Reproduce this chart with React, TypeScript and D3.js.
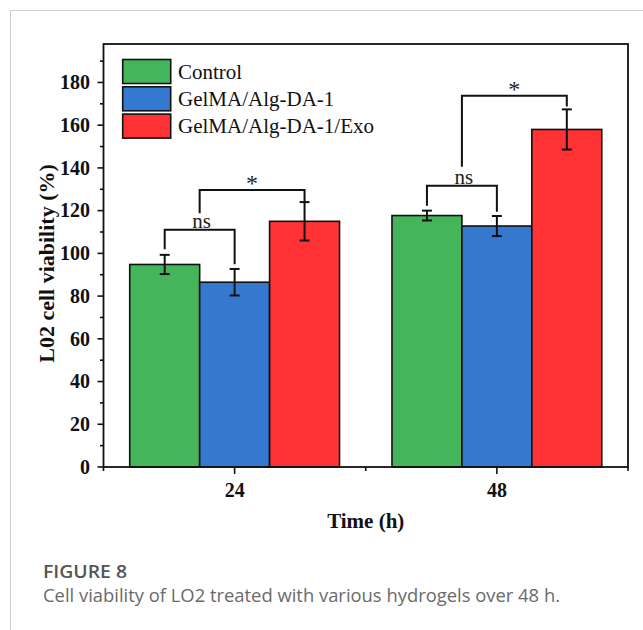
import React from "react";
import * as d3 from "d3";

// ---- data ----
const groups = [24, 48];
const seriesNames = ["Control", "GelMA/Alg-DA-1", "GelMA/Alg-DA-1/Exo"];
const seriesColors = ["#45b55b", "#3478d0", "#ff3236"];
const controlMean = [94.8, 117.7];
const controlErr = [4.5, 2.3];
const gelmaMean = [86.5, 112.8];
const gelmaErr = [6.2, 4.7];
const exoMean = [115.0, 158.0];
const exoErr = [9.0, 9.4];
const yMajorTicks = [0, 20, 40, 60, 80, 100, 120, 140, 160, 180];
const yMinorTicks = [10, 30, 50, 70, 90, 110, 130, 150, 170, 190];
const xMajorTicks = [24, 48];
const xMinorTicks = [12, 36, 60];
// significance brackets: group, from/to bar index (0.5 = midpoint of 0 and 1), top, left end, right end
const bracketGroup = [24, 24, 48, 48];
const bracketFrom = [0, 0.5, 0, 0.5];
const bracketTo = [1, 2, 1, 2];
const bracketTop = [111, 129.7, 131.6, 173.8];
const bracketLeftEnd = [101.9, 118.8, 122.3, 140.6];
const bracketRightEnd = [94.9, 124.2, 119.5, 168.7];
const bracketLabel = ["ns", "*", "ns", "*"];

const means = [controlMean, gelmaMean, exoMean];
const errs = [controlErr, gelmaErr, exoErr];

const W = 643;
const H = 630;
const left = 103.5, right = 628, top = 44, bottom = 467;
const barW = 6.4; // in x units

export default function App() {
  const x = d3.scaleLinear().domain([12, 60]).range([left, right]);
  const y = d3.scaleLinear().domain([0, 198]).range([bottom, top]);
  const serif = "'Liberation Serif', 'Times New Roman', serif";
  const barX = (g: number, i: number) => x(g + (i - 1) * barW);

  return (
    <svg width={W} height={H} style={{ position: "absolute", left: 0, top: 0, background: "#fff" }}>
      {/* page frame */}
      <line x1={10.5} y1={10.5} x2={W} y2={10.5} stroke="#cfcfcf" strokeWidth={1} />
      <line x1={10.5} y1={10.5} x2={10.5} y2={H} stroke="#cfcfcf" strokeWidth={1} />

      {/* bars */}
      {seriesNames.map((s, i) =>
        groups.map((g, j) => {
          const x0 = x(g + (i - 1) * barW - barW / 2);
          const x1 = x(g + (i - 1) * barW + barW / 2);
          return (
            <rect key={s + g} x={x0} y={y(means[i][j])} width={x1 - x0} height={y(0) - y(means[i][j])}
              fill={seriesColors[i]} stroke="#111" strokeWidth={1.6} />
          );
        })
      )}
      {/* error bars */}
      {seriesNames.map((s, i) =>
        groups.map((g, j) => {
          const cx = barX(g, i);
          const hi = y(means[i][j] + errs[i][j]);
          const lo = y(means[i][j] - errs[i][j]);
          return (
            <g key={"e" + s + g} stroke="#111" strokeWidth={2}>
              <line x1={cx} x2={cx} y1={hi} y2={lo} />
              <line x1={cx - 5} x2={cx + 5} y1={hi} y2={hi} />
              <line x1={cx - 5} x2={cx + 5} y1={lo} y2={lo} />
            </g>
          );
        })
      )}
      {/* brackets */}
      {bracketLabel.map((lab, k) => {
        const xa = barX(bracketGroup[k], bracketFrom[k]);
        const xb = barX(bracketGroup[k], bracketTo[k]);
        const yt = y(bracketTop[k]);
        const star = lab === "*";
        return (
          <g key={"b" + k}>
            <path d={`M${xa},${y(bracketLeftEnd[k])}V${yt}H${xb}V${y(bracketRightEnd[k])}`}
              fill="none" stroke="#111" strokeWidth={2} />
            <text x={(xa + xb) / 2 + (star ? 0 : 2)} y={star ? yt + 1 : yt - 2} textAnchor="middle"
              fontFamily={serif} fontSize={star ? 24 : 21} fill="#222">{lab}</text>
          </g>
        );
      })}

      {/* frame */}
      <rect x={left} y={top} width={right - left} height={bottom - top} fill="none" stroke="#111" strokeWidth={1.8} />

      {/* y ticks */}
      {yMajorTicks.map((t) => (
        <g key={"ym" + t}>
          <line x1={left - 6} x2={left} y1={y(t)} y2={y(t)} stroke="#111" strokeWidth={1.6} />
          <text x={90} y={y(t)} dy="0.34em" textAnchor="end" fontFamily={serif} fontWeight="bold" fontSize={20} fill="#111">{t}</text>
        </g>
      ))}
      {yMinorTicks.map((t) => (
        <line key={"yn" + t} x1={left - 3.5} x2={left} y1={y(t)} y2={y(t)} stroke="#111" strokeWidth={1.6} />
      ))}
      {/* x ticks */}
      {xMajorTicks.map((t) => (
        <g key={"xm" + t}>
          <line x1={x(t)} x2={x(t)} y1={bottom} y2={bottom + 7} stroke="#111" strokeWidth={1.6} />
          <text x={x(t)} y={497} textAnchor="middle" fontFamily={serif} fontWeight="bold" fontSize={20} fill="#111">{t}</text>
        </g>
      ))}
      {xMinorTicks.map((t) => (
        <line key={"xn" + t} x1={x(t)} x2={x(t)} y1={bottom} y2={bottom + 4} stroke="#111" strokeWidth={1.6} />
      ))}

      {/* axis titles */}
      <text x={(left + right) / 2} y={528} textAnchor="middle" fontFamily={serif} fontWeight="bold" fontSize={21} fill="#111">Time (h)</text>
      <text transform={`translate(54,${(top + bottom) / 2 + 8}) rotate(-90)`} textAnchor="middle" fontFamily={serif}
        fontWeight="bold" fontSize={22} fill="#111">L02 cell viability (%)</text>

      {/* legend */}
      {seriesNames.map((s, i) => (
        <g key={"l" + s}>
          <rect x={122.7} y={59.5 + i * 27.3} width={48} height={24} fill={seriesColors[i]} stroke="#111" strokeWidth={1.6} />
          <text x={178} y={71.5 + i * 27.3} dy="0.35em" fontFamily={serif} fontSize={21} fill="#111">{s}</text>
        </g>
      ))}

      {/* caption */}
      <text x={43} y={578} fontFamily="'Open Sans', sans-serif" fontWeight={600} fontSize={18} fill="#555"
        textLength={84} lengthAdjust="spacingAndGlyphs">FIGURE 8</text>
      <text x={43} y={602} fontFamily="'Open Sans', sans-serif" fontWeight={400} fontSize={18} fill="#6a6a6a"
        textLength={517} lengthAdjust="spacingAndGlyphs">Cell viability of LO2 treated with various hydrogels over 48 h.</text>
    </svg>
  );
}
